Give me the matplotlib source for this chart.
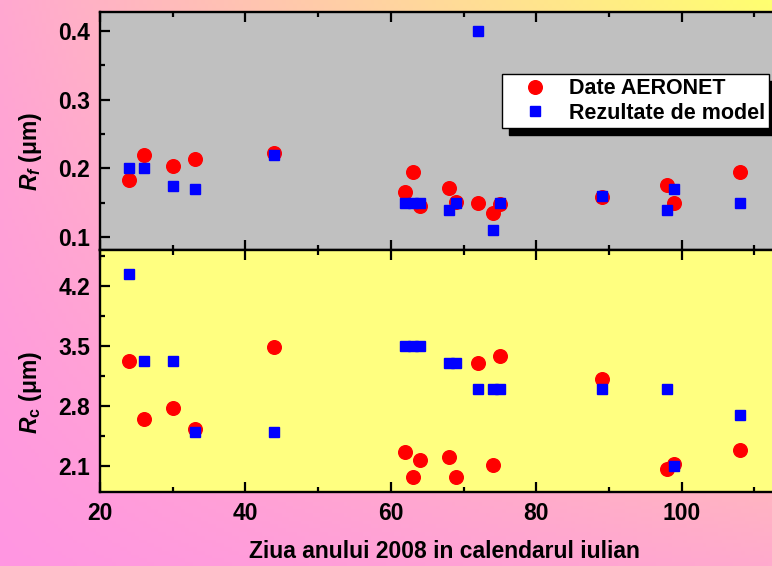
import numpy as np
import matplotlib
matplotlib.use("Agg")
import matplotlib.pyplot as plt
from matplotlib.ticker import MultipleLocator

plt.rcParams['font.family'] = ['Liberation Sans', 'DejaVu Sans']
plt.rcParams['font.weight'] = 'bold'
plt.rcParams['mathtext.fontset'] = 'custom'
plt.rcParams['mathtext.it'] = 'Liberation Sans:italic:bold'
plt.rcParams['mathtext.rm'] = 'Liberation Sans:bold'

# ---- data ----
days_rf_aeronet = [24, 26, 30, 33, 44, 62, 63, 64, 68, 69, 72, 74, 75, 89, 98, 99, 108]
rf_aeronet = [0.183, 0.219, 0.204, 0.214, 0.222, 0.165, 0.195, 0.145, 0.172, 0.151,
              0.150, 0.135, 0.148, 0.159, 0.176, 0.150, 0.195]
days_rf_model = [24, 26, 30, 33, 44, 62, 63, 64, 68, 69, 72, 74, 75, 89, 98, 99, 108]
rf_model = [0.200, 0.200, 0.175, 0.170, 0.219, 0.150, 0.150, 0.150, 0.140, 0.150,
            0.400, 0.110, 0.150, 0.160, 0.140, 0.170, 0.150]

days_rc_aeronet = [24, 26, 30, 33, 44, 62, 63, 64, 68, 69, 72, 74, 75, 89, 98, 99, 108]
rc_aeronet = [3.33, 2.65, 2.78, 2.53, 3.49, 2.26, 1.97, 2.17, 2.21, 1.97,
              3.30, 2.11, 3.38, 3.11, 2.07, 2.13, 2.29]
days_rc_model = [24, 26, 30, 33, 44, 62, 63, 64, 68, 69, 72, 74, 75, 89, 98, 99, 108]
rc_model = [4.34, 3.33, 3.33, 2.50, 2.50, 3.50, 3.50, 3.50, 3.30, 3.30,
            3.00, 3.00, 3.00, 3.00, 3.00, 2.10, 2.70]

xticks = [20, 40, 60, 80, 100]
rf_ticks = [0.1, 0.2, 0.3, 0.4]
rc_ticks = [2.1, 2.8, 3.5, 4.2]
legend_labels = ['Date AERONET', 'Rezultate de model']

W, H = 772, 566
fig = plt.figure(figsize=(W / 100, H / 100), dpi=100)

# background gradient
bg = fig.add_axes([0, 0, 1, 1], zorder=-10)
tl = np.array([255, 168, 208]) / 255
tr = np.array([255, 255, 112]) / 255
bl = np.array([255, 150, 226]) / 255
br = np.array([255, 170, 205]) / 255
u = np.linspace(0, 1, 200)[None, :, None]
v = np.linspace(0, 1, 150)[:, None, None]
img = (1 - v) * ((1 - u) * tl + u * tr) + v * ((1 - u) * bl + u * br)
bg.imshow(img, aspect='auto', extent=[0, 1, 0, 1], origin='upper')
bg.axis('off')

left = 100 / W
width = 727 / W
ax1 = fig.add_axes([left, (H - 250) / H, width, 238 / H])
ax2 = fig.add_axes([left, (H - 492) / H, width, 242 / H])

ax1.set_facecolor('#c0c0c0')
ax2.set_facecolor('#ffff80')

ms_c, ms_s = 9.8, 7.8
ax1.plot(days_rf_aeronet, rf_aeronet, 'o', color='#ff0000', ms=ms_c, mec='#ff0000',
         label=legend_labels[0], zorder=3)
ax1.plot(days_rf_model, rf_model, 's', color='#0000ff', ms=ms_s, mec='#0000ff',
         label=legend_labels[1], zorder=4)
ax2.plot(days_rc_aeronet, rc_aeronet, 'o', color='#ff0000', ms=ms_c, mec='#ff0000', zorder=3)
ax2.plot(days_rc_model, rc_model, 's', color='#0000ff', ms=ms_s, mec='#0000ff', zorder=4)

tick_fs = 16.5
for ax in (ax1, ax2):
    ax.set_xlim(20, 120)
    ax.set_xticks(xticks)
    ax.xaxis.set_minor_locator(MultipleLocator(10))
    ax.tick_params(which='both', direction='in', top=True, bottom=True, right=False,
                   width=1.6, labelsize=tick_fs)
    ax.tick_params(which='major', length=7)
    ax.tick_params(which='minor', length=3.5)
    ax.tick_params(axis='y', pad=7)
    ax.tick_params(axis='x', pad=7)
    for s in ax.spines.values():
        s.set_linewidth(1.7)
    for lab in ax.get_xticklabels() + ax.get_yticklabels():
        lab.set_fontweight('bold')

ax1.set_ylim(0.081, 0.428)
ax1.set_yticks(rf_ticks)
ax1.set_yticklabels(['0.1', '0.2', '0.3', '0.4'])
ax1.yaxis.set_minor_locator(MultipleLocator(0.05))
ax1.tick_params(labelbottom=False)

ax2.set_ylim(1.80, 4.616)
ax2.set_yticks(rc_ticks)
ax2.set_yticklabels(['2.1', '2.8', '3.5', '4.2'])
ax2.yaxis.set_minor_locator(MultipleLocator(0.35))

fig.text(31 / W, 1 - 151 / H, r'$R_f$ (μm)', rotation=90, ha='center', va='center',
         fontsize=16.5, fontweight='bold')
fig.text(31 / W, 1 - 393 / H, r'$R_\mathrm{c}$ (μm)', rotation=90, ha='center', va='center',
         fontsize=16.5, fontweight='bold')
fig.text(444 / W, 1 - 551 / H, 'Ziua anului 2008 in calendarul iulian', ha='center',
         va='center', fontsize=16.5, fontweight='bold')

leg = ax1.legend(loc='upper right', bbox_to_anchor=(769 / W, 1 - 74 / H),
                 bbox_transform=fig.transFigure, fancybox=False, framealpha=1,
                 edgecolor='black', facecolor='white', fontsize=15.5,
                 handlelength=2.66, handletextpad=0.21, borderpad=0.2,
                 labelspacing=0.15, borderaxespad=0,
                 shadow={'ox': 5, 'oy': -5, 'color': 'black', 'alpha': 1})
leg.get_frame().set_linewidth(1.0)
for t in leg.get_texts():
    t.set_fontweight('bold')

fig.savefig('out.png', dpi=100)
